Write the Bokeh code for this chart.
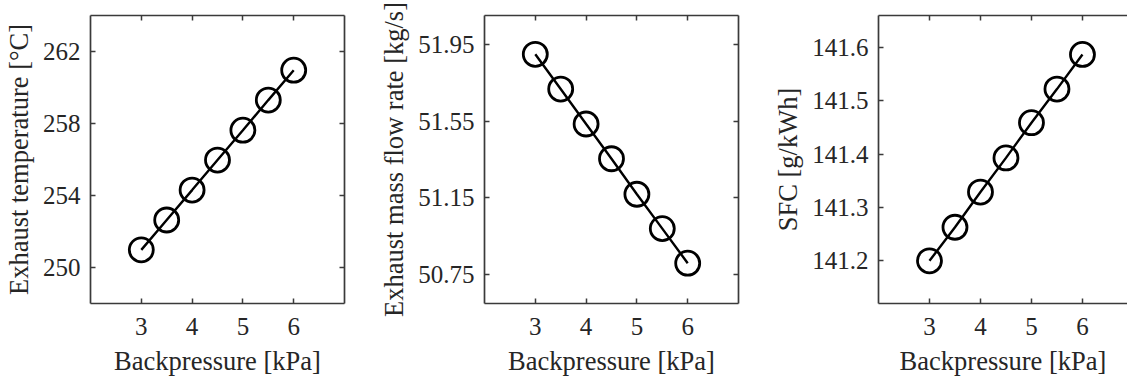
from bokeh.plotting import figure
from bokeh.layouts import row
from bokeh.models import (Range1d, FixedTicker, PrintfTickFormatter, LinearAxis,
                          CustomJSTickFormatter)
from bokeh.embed import file_html
from bokeh.resources import INLINE

backpressure = [3.0, 3.5, 4.0, 4.5, 5.0, 5.5, 6.0]
exhaust_temp = [250.98, 252.64, 254.30, 255.97, 257.63, 259.30, 260.96]
exhaust_flow = [51.898, 51.717, 51.535, 51.354, 51.169, 50.990, 50.810]
sfc = [141.200, 141.263, 141.329, 141.393, 141.459, 141.522, 141.587]

x_ticks = [3, 4, 5, 6]
temp_ticks = [250, 254, 258, 262]
flow_ticks = [50.75, 51.15, 51.55, 51.95]
sfc_ticks = [141.2, 141.3, 141.4, 141.5, 141.6]

FONT = "Liberation Serif"
TXT = "#262626"
FRAME = "#3a3a3a"


def style_axis(ax, ticks, fmt, labels=True):
    ax.ticker = FixedTicker(ticks=ticks)
    ax.axis_line_color = FRAME
    ax.axis_line_width = 1.7
    ax.major_tick_line_color = FRAME
    ax.major_tick_line_width = 1.5
    ax.major_tick_in = 5
    ax.major_tick_out = 0
    ax.minor_tick_line_color = None
    if labels:
        ax.formatter = PrintfTickFormatter(format=fmt)
        ax.major_label_text_font = FONT
        ax.major_label_text_font_size = "25px"
        ax.major_label_text_color = TXT
        ax.axis_label_text_font = FONT
        ax.axis_label_text_font_size = "26.5px"
        ax.axis_label_text_font_style = "normal"
        ax.axis_label_text_color = TXT
    else:
        ax.formatter = CustomJSTickFormatter(code="return ''")
        ax.major_label_standoff = 0


def panel(y, yr, yticks, yfmt, ylabel, width, left, frame_w, xr_end, right_border=True):
    p = figure(width=width, height=378, output_backend="svg", toolbar_location=None,
               x_range=Range1d(2, xr_end), y_range=Range1d(*yr),
               min_border_left=left, min_border_right=width - left - frame_w,
               min_border_top=15, min_border_bottom=74)
    p.outline_line_color = None
    p.grid.visible = False
    p.background_fill_color = "white"
    p.border_fill_color = "white"

    xa = p.xaxis[0]
    style_axis(xa, x_ticks, "%d")
    xa.axis_label = "Backpressure [kPa]"
    xa.major_label_standoff = 14
    xa.axis_label_standoff = 8

    ya = p.yaxis[0]
    style_axis(ya, yticks, yfmt)
    ya.axis_label = ylabel
    ya.major_label_standoff = 10
    ya.axis_label_standoff = 6

    top = LinearAxis()
    style_axis(top, x_ticks, "%d", labels=False)
    p.add_layout(top, "above")
    if right_border:
        rt = LinearAxis()
        style_axis(rt, yticks, yfmt, labels=False)
        p.add_layout(rt, "right")

    p.line(backpressure, y, line_color="black", line_width=2.4)
    p.scatter(backpressure, y, marker="circle", size=24, fill_color=None,
              line_color="black", line_width=2.8)
    return p


p1 = panel(exhaust_temp, (248, 264), temp_ticks, "%d",
           "Exhaust temperature [°C]", 376, 88, 256, 7)
p2 = panel(exhaust_flow, (50.6, 52.1), flow_ticks, "%.2f",
           "Exhaust mass flow rate [kg/s]", 394, 106, 256, 7)
p3 = panel(sfc, (141.12, 141.66), sfc_ticks, "%.1f",
           "SFC [g/kWh]", 357, 106, 251, 2 + 251 / 51.4, right_border=False)

layout = row(p1, p2, p3, spacing=0)
open("out.html", "w").write(file_html(layout, INLINE))
